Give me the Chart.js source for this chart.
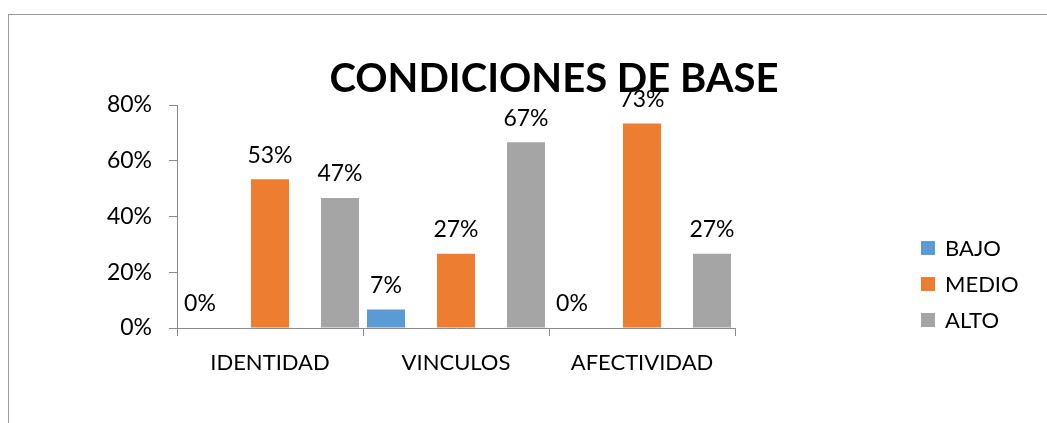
<!DOCTYPE html>
<html>
<head>
<meta charset="utf-8">
<script src="https://cdn.jsdelivr.net/npm/chart.js@4.4.0/dist/chart.umd.min.js"></script>
<style>
  html, body { margin: 0; padding: 0; background: #fff; width: 1047px; height: 423px; overflow: hidden; }
  #frame { position: absolute; left: 8px; top: 14px; width: 1100px; height: 500px;
           border-top: 1px solid #9a9a9a; border-left: 1px solid #9a9a9a; }
  #c { position: absolute; left: 0; top: 0; }
</style>
</head>
<body>
<div id="frame"></div>
<canvas id="c" width="1047" height="423"></canvas>
<script>
const chartTitle = 'CONDICIONES DE BASE';
const categories = ['IDENTIDAD', 'VINCULOS', 'AFECTIVIDAD'];
const seriesNames = ['BAJO', 'MEDIO', 'ALTO'];
const bajo  = [0, 6.67, 0];
const medio = [53.33, 26.67, 73.33];
const alto  = [46.67, 66.67, 26.67];
const yTicks = [0, 20, 40, 60, 80];
const colors = ['#5B9BD5', '#ED7D31', '#A5A5A5'];

const FONT = 'Lato, "Open Sans", sans-serif';
const axisColor = '#8a8a8a';

const dataLabels = {
  id: 'dataLabels',
  afterDatasetsDraw(chart) {
    const ctx = chart.ctx;
    ctx.save();
    ctx.font = '23px ' + FONT;
    ctx.fillStyle = '#000';
    ctx.textAlign = 'center';
    ctx.textBaseline = 'middle';
    chart.data.datasets.forEach((ds, i) => {
      const meta = chart.getDatasetMeta(i);
      meta.data.forEach((bar, j) => {
        ctx.fillText(Math.round(ds.data[j]) + '%', bar.x, bar.y - 24);
      });
    });
    ctx.restore();
  }
};

const titleAndLegend = {
  id: 'titleAndLegend',
  afterDraw(chart) {
    const ctx = chart.ctx;
    ctx.save();
    ctx.font = 'bold 40px ' + FONT;
    ctx.fillStyle = '#000';
    ctx.textAlign = 'center';
    ctx.textBaseline = 'alphabetic';
    ctx.fillText(chartTitle, 554, 92);
    ctx.font = '22px ' + FONT;
    ctx.textAlign = 'left';
    ctx.textBaseline = 'middle';
    chart.data.datasets.forEach((ds, i) => {
      const cy = 248 + i * 36;
      ctx.fillStyle = ds.backgroundColor;
      ctx.fillRect(921, cy - 7, 14, 14);
      ctx.fillStyle = '#000';
      ctx.fillText(ds.label, 945, cy + 1);
    });
    ctx.restore();
  }
};

new Chart(document.getElementById('c'), {
  type: 'bar',
  data: {
    labels: categories,
    datasets: [
      { label: seriesNames[0], data: bajo,  backgroundColor: colors[0] },
      { label: seriesNames[1], data: medio, backgroundColor: colors[1] },
      { label: seriesNames[2], data: alto,  backgroundColor: colors[2] }
    ]
  },
  options: {
    responsive: false,
    animation: false,
    events: [],
    categoryPercentage: 1.129,
    barPercentage: 0.543,
    layout: { padding: { left: 0, top: 105, right: 312, bottom: 0 } },
    plugins: { legend: { display: false }, title: { display: false }, tooltip: { enabled: false } },
    scales: {
      x: {
        afterFit(s) { s.height = 95; },
        grid: { display: true, drawOnChartArea: false, drawTicks: true, tickLength: 8, color: axisColor, offset: true },
        border: { display: true, color: axisColor, width: 1 },
        ticks: { color: '#000', font: { family: FONT, size: 22 }, padding: 14, maxRotation: 0 }
      },
      y: {
        min: 0, max: 80,
        afterFit(s) { s.width = 177; },
        afterBuildTicks(s) { s.ticks = yTicks.map(v => ({ value: v })); },
        grid: { display: true, drawOnChartArea: false, drawTicks: true, tickLength: 8, color: axisColor },
        border: { display: true, color: axisColor, width: 1 },
        ticks: { color: '#000', font: { family: FONT, size: 23 }, padding: 17, callback: v => v + '%' }
      }
    }
  },
  plugins: [dataLabels, titleAndLegend]
});
</script>
</body>
</html>
